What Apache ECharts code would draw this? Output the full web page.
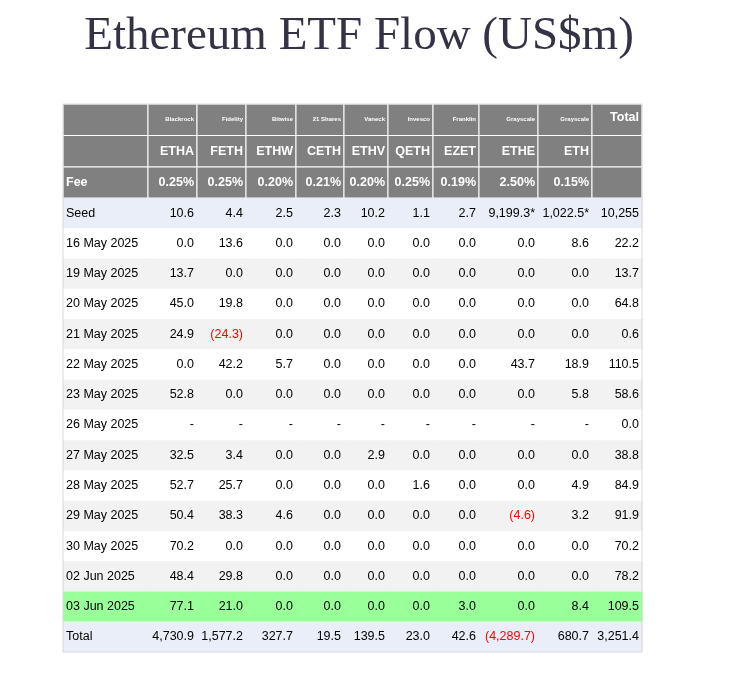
<!DOCTYPE html>
<html><head><meta charset="utf-8">
<script src="https://cdn.jsdelivr.net/npm/echarts@6/dist/echarts.min.js"></script>
<style>html,body{margin:0;padding:0;background:#fff}#c{width:730px;height:677px}</style>
</head><body><div id="c"></div>
<script>
const providers = ['', 'Blackrock', 'Fidelity', 'Bitwise', '21 Shares', 'Vaneck', 'Invesco', 'Franklin', 'Grayscale', 'Grayscale', 'Total']
const tickers = ['', 'ETHA', 'FETH', 'ETHW', 'CETH', 'ETHV', 'QETH', 'EZET', 'ETHE', 'ETH', '']
const fees = ['Fee', '0.25%', '0.25%', '0.20%', '0.21%', '0.20%', '0.25%', '0.19%', '2.50%', '0.15%', '']
const rowLabels = ['Seed', '16 May 2025', '19 May 2025', '20 May 2025', '21 May 2025', '22 May 2025', '23 May 2025',
  '26 May 2025', '27 May 2025', '28 May 2025', '29 May 2025', '30 May 2025', '02 Jun 2025', '03 Jun 2025', 'Total']
const flows = [
  ['10.6', '4.4', '2.5', '2.3', '10.2', '1.1', '2.7', '9,199.3*', '1,022.5*', '10,255'],
  ['0.0', '13.6', '0.0', '0.0', '0.0', '0.0', '0.0', '0.0', '8.6', '22.2'],
  ['13.7', '0.0', '0.0', '0.0', '0.0', '0.0', '0.0', '0.0', '0.0', '13.7'],
  ['45.0', '19.8', '0.0', '0.0', '0.0', '0.0', '0.0', '0.0', '0.0', '64.8'],
  ['24.9', '(24.3)', '0.0', '0.0', '0.0', '0.0', '0.0', '0.0', '0.0', '0.6'],
  ['0.0', '42.2', '5.7', '0.0', '0.0', '0.0', '0.0', '43.7', '18.9', '110.5'],
  ['52.8', '0.0', '0.0', '0.0', '0.0', '0.0', '0.0', '0.0', '5.8', '58.6'],
  ['-', '-', '-', '-', '-', '-', '-', '-', '-', '0.0'],
  ['32.5', '3.4', '0.0', '0.0', '2.9', '0.0', '0.0', '0.0', '0.0', '38.8'],
  ['52.7', '25.7', '0.0', '0.0', '0.0', '1.6', '0.0', '0.0', '4.9', '84.9'],
  ['50.4', '38.3', '4.6', '0.0', '0.0', '0.0', '0.0', '(4.6)', '3.2', '91.9'],
  ['70.2', '0.0', '0.0', '0.0', '0.0', '0.0', '0.0', '0.0', '0.0', '70.2'],
  ['48.4', '29.8', '0.0', '0.0', '0.0', '0.0', '0.0', '0.0', '0.0', '78.2'],
  ['77.1', '21.0', '0.0', '0.0', '0.0', '0.0', '3.0', '0.0', '8.4', '109.5'],
  ['4,730.9', '1,577.2', '327.7', '19.5', '139.5', '23.0', '42.6', '(4,289.7)', '680.7', '3,251.4']
]

// column and row edges in axis units (pixel-like)
const edges = [63, 148, 197, 246, 296, 344, 388, 433, 479, 538, 592, 642]
const rowEdges = [104, 135.5, 167, 198]
for (let i = 1; i <= rowLabels.length; i++) rowEdges.push(198 + i * 454 / rowLabels.length)

const cells = []
const headRows = [providers, tickers, fees]
headRows.forEach((r, ri) => r.forEach((t, ci) => cells.push([ci, ri, t, 'h' + ri])))
rowLabels.forEach((lab, ri) => {
  cells.push([0, ri + 3, lab, 'd'])
  flows[ri].forEach((t, ci) => cells.push([ci + 1, ri + 3, t, 'd']))
})

function rowBg(r) {
  if (r < 3) return '#808080'
  const i = r - 3
  if (i === 0 || i === rowLabels.length - 1) return '#eaeef8'
  if (i === 13) return '#99ff99'
  return i % 2 === 0 ? '#f2f2f2' : '#ffffff'
}

const chart = echarts.init(document.getElementById('c'))
chart.setOption({
  animation: false,
  title: {
    text: 'Ethereum ETF Flow (US$m)', left: 354, top: 8, textAlign: 'center',
    textStyle: { fontFamily: 'Liberation Serif', fontSize: 47, fontWeight: 'normal', color: '#333345' }
  },
  grid: { left: 63, top: 104, width: 579, height: 548 },
  xAxis: { type: 'value', min: 63, max: 642, show: false },
  yAxis: { type: 'value', min: 104, max: 652, inverse: true, show: false },
  series: [{
    type: 'custom',
    data: cells,
    renderItem: function (params, api) {
      const ci = api.value(0), ri = api.value(1)
      const txt = cells[params.dataIndex][2], kind = cells[params.dataIndex][3]
      const p0 = api.coord([edges[ci], rowEdges[ri]]), p1 = api.coord([edges[ci + 1], rowEdges[ri + 1]])
      const head = kind !== 'd'
      const neg = txt.charAt(0) === '('
      let fs = 12.5, bold = false
      if (kind === 'h0') { fs = ci === 10 ? 12.5 : 6; bold = true }
      if (kind === 'h1' || kind === 'h2') bold = true
      const left = ci === 0
      return {
        type: 'group',
        children: [{
          type: 'rect',
          shape: { x: p0[0], y: p0[1], width: p1[0] - p0[0] + (head ? 0 : 0.5), height: p1[1] - p0[1] },
          style: { fill: rowBg(ri), stroke: head ? '#ffffff' : null, lineWidth: head ? 1 : 0 }
        }, {
          type: 'text',
          style: {
            text: txt,
            x: left ? p0[0] + 3 : p1[0] - 3,
            y: (p0[1] + p1[1]) / 2 + (kind === 'h0' && ci === 10 ? -2 : 0),
            align: left ? 'left' : 'right', verticalAlign: 'middle',
            fontFamily: 'Liberation Sans', fontSize: fs, fontWeight: bold ? 'bold' : 'normal',
            fill: head ? '#ffffff' : (neg ? '#ff0000' : '#000000')
          }
        }]
      }
    }
  }],
  graphic: [{
    type: 'rect', shape: { x: 63, y: 104, width: 579, height: 548 },
    style: { fill: null, stroke: '#d8d8d8', lineWidth: 1 }, z: 100
  }]
})
</script></body></html>
